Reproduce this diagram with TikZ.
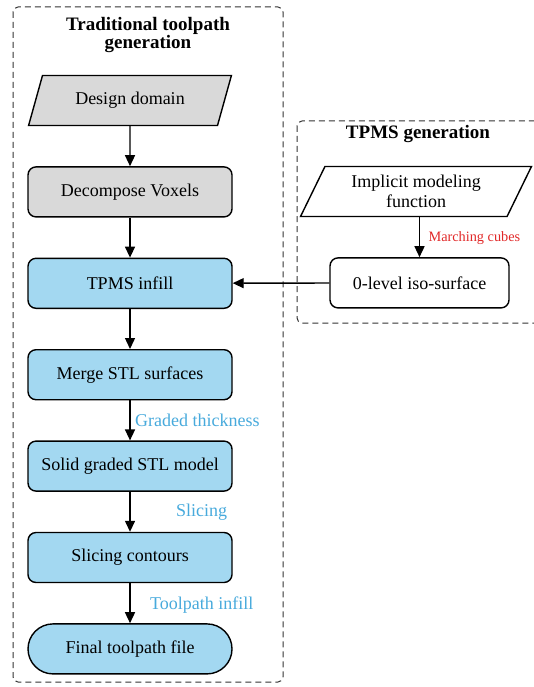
\documentclass[tikz,border=0pt]{standalone}
\usepackage{fontspec}
\setmainfont{Liberation Serif}
\usetikzlibrary{shapes.geometric, arrows.meta, positioning, backgrounds}

\definecolor{boxblue}{RGB}{163,216,241}
\definecolor{boxgray}{RGB}{217,217,217}
\definecolor{labelblue}{RGB}{72,170,220}
\definecolor{labelred}{RGB}{225,40,40}

\begin{document}
\begin{tikzpicture} [
    x=1pt, y=-1pt,
    node distance=40pt,
    font=\fontsize{18}{20}\selectfont,
    inputbox/.style={trapezium, trapezium stretches=true, trapezium left angle=62, trapezium right angle=118, draw=black, line width=1.4pt, minimum width=203pt, minimum height=50pt, inner sep=0pt, align=center},
    process/.style={rectangle, rounded corners=8pt, draw=black, line width=1.4pt, fill=boxblue, minimum width=204pt, minimum height=50pt, text centered},
    terminal/.style={rectangle, rounded corners=25pt, draw=black, line width=1.4pt, fill=boxblue, minimum width=204pt, minimum height=50pt, text centered},
    frame/.style={draw=black!80, dash pattern=on 6pt off 4pt, line width=1pt, rounded corners=5pt},
    title/.style={font=\fontsize{19}{17}\selectfont\bfseries, align=center},
    steplabel/.style={text=labelblue, anchor=west},
    arrow/.style={-{Triangle[length=11pt, width=10pt]}, line width=1.4pt}
]
\useasboundingbox (0,0) rectangle (533,687);

% Dashed frames
\draw[frame] (13,7) rectangle (283,682);
\draw[frame] (297,121) rectangle (540,323);
\node[title] (maintitle) at (148,35) {Traditional toolpath\\generation};
\node[title] (sidetitle) at (418,134) {TPMS generation};

% Main column
\node[inputbox, fill=boxgray] (domain) at (130,100.5) {Design domain};
\node[process, fill=boxgray, below=of domain] (voxels) {Decompose Voxels};
\node[process, below=of voxels] (infill) {TPMS infill};
\node[process, below=of infill] (merge) {Merge STL surfaces};
\node[process, below=of merge] (solid) {Solid graded STL model};
\node[process, below=of solid] (contours) {Slicing contours};
\node[terminal, below=of contours] (final) {Final toolpath file};

% TPMS generation
\node[inputbox, minimum width=231pt] (implicit) at (416,191.5) {Implicit modeling\\function};
\node[process, fill=white, minimum width=179pt, below=of implicit, xshift=3.5pt] (isosurf) {0-level iso-surface};

% Arrows
\draw[arrow] (domain) -- (voxels);
\draw[arrow] (voxels) -- (infill);
\draw[arrow] (infill) -- (merge);
\draw[arrow] (merge) -- node[steplabel, xshift=1pt, pos=0.5] {Graded thickness} (solid);
\draw[arrow] (solid) -- node[steplabel, xshift=42pt, pos=0.52] {Slicing} (contours);
\draw[arrow] (contours) -- node[steplabel, xshift=16pt, pos=0.55] {Toolpath infill} (final);
\draw[arrow] (implicit.south -| isosurf.north) -- node[steplabel, text=labelred, font=\fontsize{14.3}{16}\selectfont, xshift=5pt, pos=0.52] {Marching cubes} (isosurf);
\draw[arrow] (isosurf) -- (infill);

\end{tikzpicture}
\end{document}
